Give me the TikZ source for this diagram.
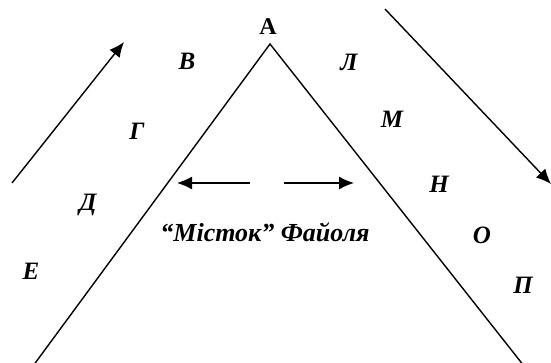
\documentclass[tikz,border=0pt]{standalone}
\usepackage{fontspec}
\setmainfont{Liberation Serif}
\usetikzlibrary{arrows.meta}
\begin{document}
\begin{tikzpicture}[x=1pt,y=-1pt,
  edge/.style={line width=1.4pt},
  arr/.style={line width=1.4pt,-{Latex[length=15pt,width=13pt]}},
  lbl/.style={font=\fontsize{25}{28}\selectfont\bfseries\itshape, inner sep=0pt},
  captext/.style={font=\fontsize{26}{30}\selectfont\bfseries\itshape, inner sep=0pt}]
\useasboundingbox (0,0) rectangle (551,363);
% triangle
\coordinate (apex) at (270,44);
\coordinate (bl) at (33,366);
\coordinate (br) at (524,366);
\draw[edge] (bl) -- (apex) -- (br);
% diagonal arrows
\coordinate (la0) at (12,183);
\coordinate (la1) at (124,42);
\draw[arr] (la0) -- (la1);
\coordinate (ra0) at (385,9);
\coordinate (ra1) at (551,184);
\draw[arr] (ra0) -- (ra1);
% horizontal arrows
\coordinate (h1a) at (250,183);
\coordinate (h1b) at (177,183);
\draw[arr] (h1a) -- (h1b);
\coordinate (h2a) at (284,183);
\coordinate (h2b) at (354,183);
\draw[arr] (h2a) -- (h2b);
% labels
\node[font=\fontsize{24}{26}\selectfont\bfseries, inner sep=0pt] (A) at (268,27) {A};
\node[lbl] (B) at (187,61) {В};
\node[lbl] (G) at (137,131) {Г};
\node[lbl] (D) at (88,205) {Д};
\node[lbl] (E) at (31,271) {Е};
\node[lbl] (L) at (349,62) {Л};
\node[lbl] (M) at (392,119) {М};
\node[lbl] (N) at (439,184) {Н};
\node[lbl] (O) at (482,235) {О};
\node[lbl] (P) at (523,285) {П};
\node[captext] (cap) at (265,232) {“Мiсток” Файоля};
\end{tikzpicture}
\end{document}
